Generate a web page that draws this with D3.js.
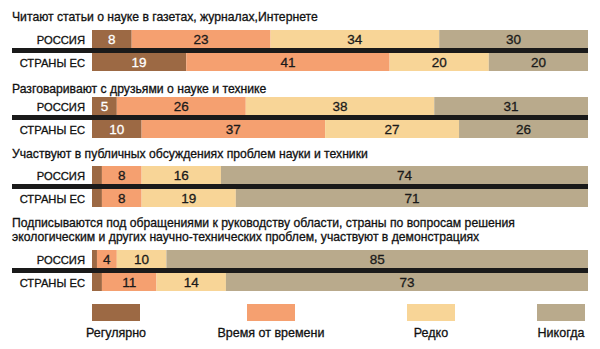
<!DOCTYPE html>
<html>
<head>
<meta charset="utf-8">
<script src="https://cdn.jsdelivr.net/npm/d3@7"></script>
<style>
  body { margin: 0; background: #fff; }
  svg { display: block; font-family: "Liberation Sans", Arial, sans-serif; }
  .txt { stroke-width: 0.3px; }
</style>
</head>
<body>
<div id="chart"></div>
<script>
// данные
const titles = [
  ["Читают статьи о науке в газетах, журналах,Интернете"],
  ["Разговаривают с друзьями о науке и технике"],
  ["Участвуют в публичных обсуждениях проблем науки и техники"],
  ["Подписываются под обращениями к руководству области, страны по вопросам решения",
   "экологическим и других научно-технических проблем, участвуют в демонстрациях"]
];
const rowLabels = ["РОССИЯ", "СТРАНЫ ЕС"];
const categories = ["Регулярно", "Время от времени", "Редко", "Никогда"];
const russia = [[8, 23, 34, 30], [5, 26, 38, 31], [2, 8, 16, 74], [1, 4, 10, 85]];
const eu = [[19, 41, 20, 20], [10, 37, 27, 26], [2, 8, 19, 71], [2, 11, 14, 73]];

const colors = ["#9c6944", "#f5a070", "#f8d597", "#b9aa8c"];

const width = 600, height = 349;
const svg = d3.select("#chart").append("svg")
  .attr("width", width).attr("height", height);

const x = d3.scaleLinear().domain([0, 100]).range([92, 588]);
const color = d3.scaleOrdinal().domain(categories).range(colors);

// раскладка блоков
const blockTop = [30, 97, 166, 250];
const titleY = [20.5, 92.5, 158, 227];
const barH = 18, lineH = 5;

// первые сегменты от левого края, последние — от правого,
// "время от времени" занимает промежуток (если сумма < 100)
function segments(vals) {
  const n = vals.length;
  const L = [0], R = [];
  vals.forEach((v, i) => L.push(L[i] + v));
  R[n] = 100;
  for (let i = n - 1; i >= 0; i--) R[i] = R[i + 1] - vals[i];
  return vals.map((v, i) => ({
    key: categories[i],
    value: v,
    x0: i <= 1 ? L[i] : R[i],
    x1: i < 1 ? L[i + 1] : R[i + 1]
  }));
}

titles.forEach((lines, g) => {
  const t = svg.append("text")
    .attr("class", "txt")
    .attr("x", 12).attr("y", titleY[g])
    .attr("font-size", 12.2).attr("fill", "#111").attr("stroke", "#111");
  lines.forEach((ln, j) => {
    t.append("tspan").attr("x", 12).attr("dy", j === 0 ? 0 : 13.5).text(ln);
  });

  const top = blockTop[g];
  const rows = [
    { label: rowLabels[0], vals: russia[g], y: top },
    { label: rowLabels[1], vals: eu[g], y: top + barH + lineH }
  ];

  svg.append("rect")
    .attr("x", 12).attr("y", top + barH)
    .attr("width", x(100) - 12).attr("height", lineH)
    .attr("fill", "#1a1a1a");

  rows.forEach(r => {
    svg.append("text")
      .attr("class", "txt")
      .attr("x", 85).attr("y", r.y + barH / 2 + 4.5)
      .attr("text-anchor", "end")
      .attr("font-size", 11.2).attr("fill", "#111").attr("stroke", "#111")
      .text(r.label);

    const seg = segments(r.vals);
    const gr = svg.append("g");
    gr.selectAll("rect").data(seg).enter().append("rect")
      .attr("x", d => x(d.x0))
      .attr("y", r.y)
      .attr("width", d => x(d.x1) - x(d.x0))
      .attr("height", barH)
      .attr("fill", d => color(d.key));

    gr.selectAll("text").data(seg.filter(d => d.value >= 4)).enter().append("text")
      .attr("class", "txt")
      .attr("x", d => (x(d.x0) + x(d.x1)) / 2)
      .attr("y", r.y + barH / 2 + 5)
      .attr("text-anchor", "middle")
      .attr("font-size", 13.5)
      .attr("fill", d => d.key === categories[0] ? "#fff" : "#1a1a1a")
      .attr("stroke", d => d.key === categories[0] ? "#fff" : "#1a1a1a")
      .text(d => d.value);
  });
});

// легенда
const legendX = [92, 247, 407, 537];
const lg = svg.append("g").selectAll("g").data(categories).enter().append("g");
lg.append("rect")
  .attr("x", (d, i) => legendX[i]).attr("y", 304)
  .attr("width", 48).attr("height", 17)
  .attr("fill", d => color(d));
lg.append("text")
  .attr("class", "txt")
  .attr("x", (d, i) => legendX[i] + 24).attr("y", 337)
  .attr("text-anchor", "middle")
  .attr("font-size", 12.5).attr("fill", "#111").attr("stroke", "#111")
  .text(d => d);
</script>
</body>
</html>
